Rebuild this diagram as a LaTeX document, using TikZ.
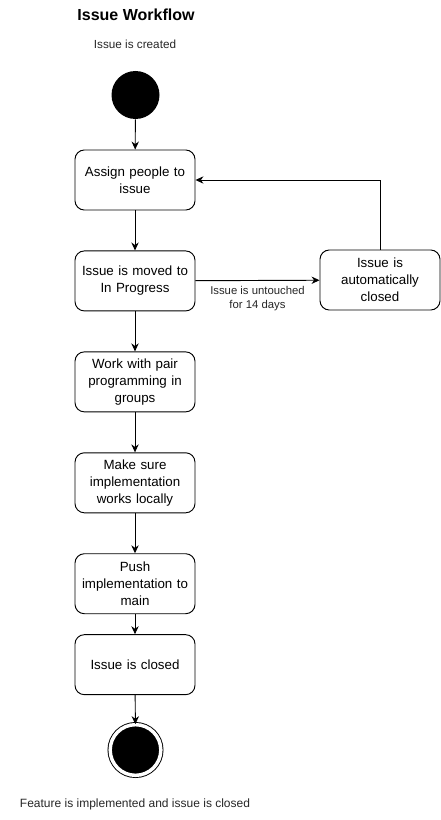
\documentclass[tikz,border=0pt]{standalone}
\usepackage{fontspec}
\setmainfont{Liberation Sans}
\usetikzlibrary{arrows.meta,positioning}

\begin{document}
\begin{tikzpicture}[
  x=0.75pt, y=-0.75pt,
  every path/.style={line width=0.7pt},
  state/.style={draw, rectangle, rounded corners=7pt, minimum width=90pt, minimum height=45pt,
    text width=86pt, inner sep=1pt, align=center, font=\fontsize{10}{12.6}\selectfont},
  start/.style={circle, fill=black, minimum size=36pt, inner sep=0pt},
  finish/.style={circle, draw, fill=black, minimum size=38pt, inner sep=0pt, double=white, double distance=2.6pt},
  note/.style={align=center, font=\fontsize{9}{10.5}\selectfont, text=black!85},
  >={Stealth[length=6pt,width=5.5pt]}
]
\useasboundingbox (0,0) rectangle (441,820);

% --- Title and captions ---
\node[font=\fontsize{12}{14}\bfseries\selectfont] (title) at (136,15) {Issue Workflow};
\node[note, font=\fontsize{8.8}{10}\selectfont] (created) at (135,44) {Issue is created};

% --- Nodes ---
\node[start] (init) at (135.5,95) {};

\node[state] (assign)   at (135,180)             {Assign people to\\issue};
\node[state] (progress) [below=30pt of assign]   {Issue is moved to\\In Progress};
\node[state] (pair)     [below=30pt of progress] {Work with pair\\programming in\\groups};
\node[state] (local)    [below=30pt of pair]     {Make sure\\implementation\\works locally};
\node[state] (push)     [below=30pt of local]    {Push\\implementation to\\main};
\node[state] (closed)   [below=15pt of push]     {Issue is closed};

\node[state] (auto) at (380,280) {Issue is\\automatically\\closed};

\node[finish] (final) at (135.5,750) {};
\node[note] (done) at (135,804) {Feature is implemented and issue is closed};

% --- Connectors ---
\draw[->] (init) -- (assign);
\draw[->] (assign) -- (progress);
\draw[->] (progress) -- (pair);
\draw[->] (pair) -- (local);
\draw[->] (local) -- (push);
\draw[->] (push) -- (closed);
\draw[->] (closed) -- (final);

\draw[->] (progress) -- node[below, note, font=\fontsize{8.5}{10}\selectfont, yshift=-1pt] {Issue is untouched\\for 14 days} (auto);
\draw[->] (auto.north) |- (assign.east);

\end{tikzpicture}
\end{document}
